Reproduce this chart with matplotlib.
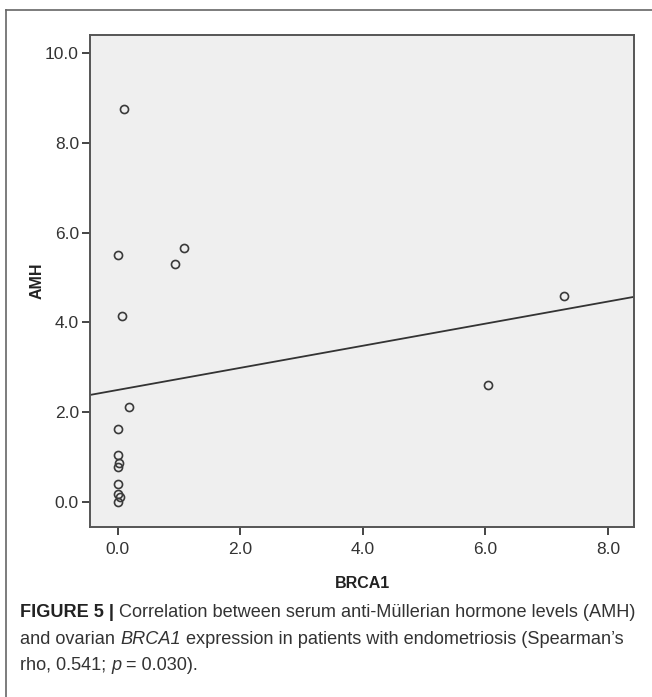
import numpy as np
import matplotlib.pyplot as plt
from matplotlib.lines import Line2D

# values
brca1 = [0.11, 0.00, 1.08, 0.94, 0.08, 0.19, 0.00, 0.01, 0.03, 0.00, 0.00, 0.00, 0.04, 0.00, 7.29, 6.04]
amh = [8.76, 5.50, 5.65, 5.30, 4.15, 2.10, 1.62, 1.04, 0.86, 0.78, 0.39, 0.16, 0.10, 0.00, 4.59, 2.60]
fit_intercept = 2.49
fit_slope = 0.2466
xticks = [0, 2, 4, 6, 8]
yticks = [0, 2, 4, 6, 8, 10]

tick_font = ['Liberation Sans Narrow', 'DejaVu Sans Condensed', 'Liberation Sans', 'DejaVu Sans']

fig = plt.figure(figsize=(6.52, 6.97), dpi=100)

# outer frame (top and left edges)
fig.add_artist(Line2D([6/652, 1.0], [1 - 10/697, 1 - 10/697], color='#666666', lw=1.2))
fig.add_artist(Line2D([6/652, 6/652], [0.0, 1 - 10/697], color='#666666', lw=1.2))

ax = fig.add_axes([90/652, 1 - 526.7/697, 544.3/652, 491.3/697])
ax.set_facecolor('#efefef')
ax.set_xlim(-0.45, 8.43)
ax.set_ylim(-0.56, 10.40)

xs = np.array(ax.get_xlim())
ax.plot(xs, fit_intercept + fit_slope * xs, color='#333333', lw=1.3)
ax.plot(brca1, amh, linestyle='none', marker='o', markersize=5.8,
        markerfacecolor='none', markeredgecolor='#3a3a3a', markeredgewidth=1.2)

for s in ax.spines.values():
    s.set_color('#555555')
    s.set_linewidth(1.4)

ax.set_xticks(xticks)
ax.set_xticklabels(['%.1f' % v for v in xticks])
ax.set_yticks(yticks)
ax.set_yticklabels(['%.1f' % v for v in yticks])
ax.tick_params(direction='out', length=6, width=1.4, color='#444444',
               labelcolor='#333333', labelsize=12.5, pad=2)
ax.tick_params(axis='x', pad=5)
for lab in ax.get_xticklabels() + ax.get_yticklabels():
    lab.set_family(tick_font)

ax.set_xlabel('BRCA1', fontsize=11.5, fontweight='bold', color='#222222',
              family=tick_font, labelpad=14)
ax.set_ylabel('AMH', fontsize=11.5, fontweight='bold', color='#222222',
              family=tick_font, labelpad=0)

# caption, three lines, mixed styles
cap = dict(fontsize=13.1, family=['Liberation Sans', 'DejaVu Sans'],
           va='baseline', ha='left')
renderer = fig.canvas.get_renderer()


def put_line(y_px, parts):
    x = 20 / 652
    for txt, style, weight, color in parts:
        t = fig.text(x, 1 - y_px / 697, txt, style=style, weight=weight,
                     color=color, **cap)
        bb = t.get_window_extent(renderer)
        x = bb.x1 / fig.bbox.width


put_line(617, [('FIGURE 5 | ', 'normal', 'bold', '#222222'),
               ('Correlation between serum anti-Müllerian hormone levels (AMH)', 'normal', 'normal', '#333333')])
put_line(644, [('and ovarian ', 'normal', 'normal', '#333333'),
               ('BRCA1', 'italic', 'normal', '#333333'),
               (' expression in patients with endometriosis (Spearman’s', 'normal', 'normal', '#333333')])
put_line(670, [('rho, 0.541; ', 'normal', 'normal', '#333333'),
               ('p', 'italic', 'normal', '#333333'),
               (' = 0.030).', 'normal', 'normal', '#333333')])

fig.savefig('out.png', dpi=100)
